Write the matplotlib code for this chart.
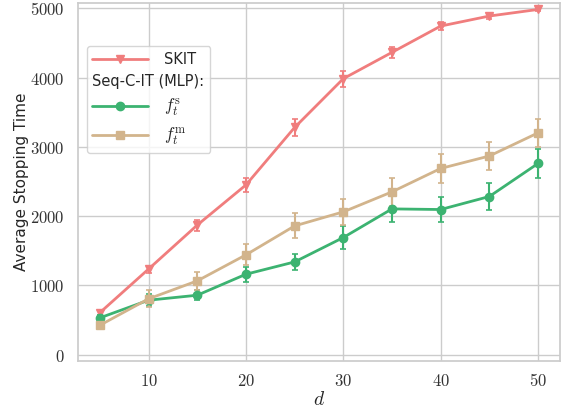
import numpy as np
import matplotlib
matplotlib.use("Agg")
import matplotlib.pyplot as plt
import seaborn as sns
from matplotlib.ticker import FuncFormatter

sns.set_theme(style="whitegrid")
plt.rcParams["font.family"] = ["DejaVu Sans"]
plt.rcParams["mathtext.fontset"] = "cm"

d = [5, 10, 15, 20, 25, 30, 35, 40, 45, 50]

skit = [605, 1235, 1870, 2450, 3280, 3985, 4365, 4745, 4890, 4985]
skit_err = [30, 50, 80, 100, 125, 118, 80, 55, 40, 25]

fs = [530, 785, 857, 1160, 1338, 1690, 2104, 2095, 2283, 2760]
fs_err = [40, 90, 72, 108, 115, 164, 185, 185, 188, 205]

fm = [423, 805, 1064, 1440, 1858, 2061, 2350, 2688, 2868, 3202]
fm_err = [60, 125, 132, 152, 180, 188, 207, 205, 205, 205]

c_skit = "#f07d7d"
c_fs = "#3cb371"
c_fm = "#d2b48c"

fig, ax = plt.subplots(figsize=(5.65, 4.12), dpi=100)

def draw(y, err, color, marker, label):
    ax.errorbar(d, y, yerr=err, color=color, marker=marker, markersize=6,
                linewidth=2, elinewidth=1.5, capsize=2.5, capthick=1.2)
    return ax.plot([], [], color=color, marker=marker, markersize=6, linewidth=2, label=label)[0]

h1 = draw(skit, skit_err, c_skit, "v", "SKIT")
h2 = draw(fs, fs_err, c_fs, "o", r"$f_t^{\mathrm{s}}$")
h3 = draw(fm, fm_err, c_fm, "s", r"$f_t^{\mathrm{m}}$")
blank = plt.Line2D([], [], linestyle="none")

leg = ax.legend([h1, blank, h2, h3], ["SKIT", "Seq-C-IT (MLP):", r"$f_t^{\mathrm{s}}$", r"$f_t^{\mathrm{m}}$"],
                loc="upper left", bbox_to_anchor=(0.018, 0.879), borderaxespad=0,
                fontsize=10.5, handlelength=3.8, handletextpad=1.1, numpoints=1, frameon=True)
for t in leg.get_texts()[2:]:
    t.set_fontsize(12.5)
# drop the handle box for the group title row
for col in leg._legend_handle_box.get_children():
    for row in col.get_children():
        kids = row.get_children()
        if kids[1]._text.get_text().startswith("Seq"):
            kids[0].set_visible(False)

ax.set_xlim(2.75, 52.25)
ax.set_ylim(-92, 5080)
ax.set_xticks([10, 20, 30, 40, 50])
ax.set_yticks([0, 1000, 2000, 3000, 4000, 5000])
fmt = FuncFormatter(lambda v, p: r"$%d$" % v)
ax.xaxis.set_major_formatter(fmt)
ax.yaxis.set_major_formatter(fmt)
ax.tick_params(labelsize=12, colors="#333333")
ax.tick_params(axis="x", pad=2)
ax.set_xlabel(r"$d$", fontsize=14, labelpad=0)
ax.set_ylabel("Average Stopping Time", fontsize=11, labelpad=1)

fig.subplots_adjust(left=0.138, right=0.991, bottom=0.124, top=0.993)
fig.savefig("out.png", dpi=100)
